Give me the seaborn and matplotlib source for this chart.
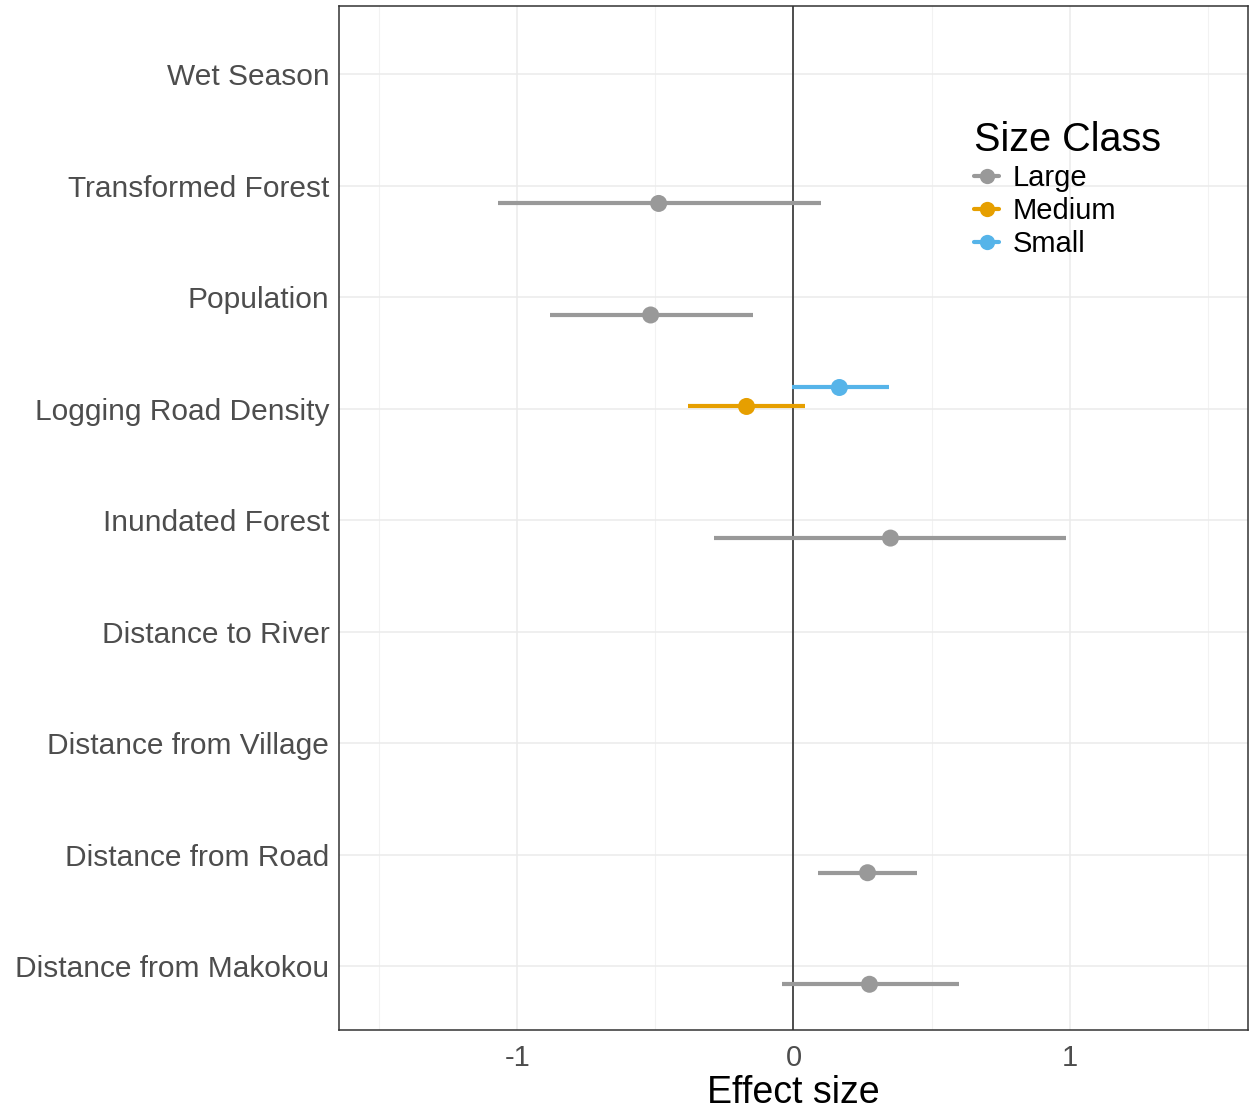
import numpy as np
import pandas as pd
import matplotlib
matplotlib.use('Agg')
import matplotlib.pyplot as plt
from matplotlib.lines import Line2D
from matplotlib.ticker import MultipleLocator
import seaborn as sns

# Data
variables = ['Wet Season', 'Transformed Forest', 'Population', 'Logging Road Density',
             'Inundated Forest', 'Distance to River', 'Distance from Village',
             'Distance from Road', 'Distance from Makokou']
term = ['Transformed Forest', 'Population', 'Logging Road Density', 'Logging Road Density',
        'Inundated Forest', 'Distance from Road', 'Distance from Makokou']
size_class = ['Large', 'Large', 'Medium', 'Small', 'Large', 'Large', 'Large']
estimate = [-0.488, -0.517, -0.170, 0.166, 0.351, 0.268, 0.275]
lower = [-1.07, -0.882, -0.380, -0.007, -0.286, 0.090, -0.040]
upper = [0.10, -0.148, 0.043, 0.344, 0.987, 0.448, 0.600]

classes = ['Large', 'Medium', 'Small']
palette = {'Large': '#999999', 'Medium': '#E69F00', 'Small': '#56B4E9'}
dodge = {'Large': 0.16, 'Medium': -0.02, 'Small': -0.19}

df = pd.DataFrame({'term': term, 'size_class': size_class,
                   'estimate': estimate, 'lower': lower, 'upper': upper})
df['y'] = df['term'].map({v: i for i, v in enumerate(variables)}) + df['size_class'].map(dodge)

sns.set_style('white')
plt.rcParams['font.family'] = ['Liberation Sans', 'DejaVu Sans']

fig = plt.figure(figsize=(12.49, 11.11), dpi=100)
ax = fig.add_axes([0.2714, 0.0729, 0.7278, 0.9217])

# grid
ax.xaxis.set_major_locator(MultipleLocator(1))
ax.xaxis.set_minor_locator(MultipleLocator(0.5))
ax.grid(which='major', axis='both', color='#EBEBEB', lw=1.1)
ax.grid(which='minor', axis='x', color='#F2F2F2', lw=0.8)
ax.set_axisbelow(True)

ax.axvline(0, color='#222222', lw=1.1, zorder=1)

for cls in classes:
    sub = df[df['size_class'] == cls]
    ax.hlines(sub['y'], sub['lower'], sub['upper'], color=palette[cls], lw=3, zorder=2)

sns.scatterplot(data=df, x='estimate', y='y', hue='size_class', palette=palette,
                hue_order=classes, s=150, edgecolor='none', zorder=3, legend=False, ax=ax)

ax.set_xlim(-1.645, 1.645)
ax.set_ylim(len(variables) - 1 + 0.57, -0.61)
ax.set_yticks(range(len(variables)))
ax.set_yticklabels(variables)
ax.set_xticks([-1, 0, 1])
ax.set_xticklabels(['-1', '0', '1'])
ax.tick_params(axis='y', which='major', labelsize=21.5, labelcolor='#4D4D4D',
               color='#333333', length=4, width=1, direction='out', pad=3)
ax.tick_params(axis='x', which='major', labelsize=21, labelcolor='#4D4D4D',
               color='#333333', length=4, width=1, direction='out', pad=6)
ax.tick_params(axis='x', which='minor', length=0)
ax.set_xlabel('Effect size', fontsize=27, color='black', labelpad=2)
ax.set_ylabel('')

for sp in ax.spines.values():
    sp.set_visible(True)
    sp.set_color('#333333')
    sp.set_linewidth(1.1)

handles = [Line2D([0], [0], color=palette[c], lw=3, marker='o', markersize=11,
                  markeredgewidth=0) for c in classes]
leg = ax.legend(handles, classes, title='Size Class', loc='upper left',
                bbox_to_anchor=(0.699, 0.888), frameon=False, fontsize=21,
                title_fontsize=28.5, handlelength=0.85, handletextpad=0.45,
                labelspacing=0.17, borderaxespad=0, borderpad=0)
leg._legend_box.align = 'left'
leg._legend_box.sep = 4
for t in leg.get_texts():
    t.set_color('black')
leg.get_title().set_color('black')

fig.savefig('out.png', dpi=100)
